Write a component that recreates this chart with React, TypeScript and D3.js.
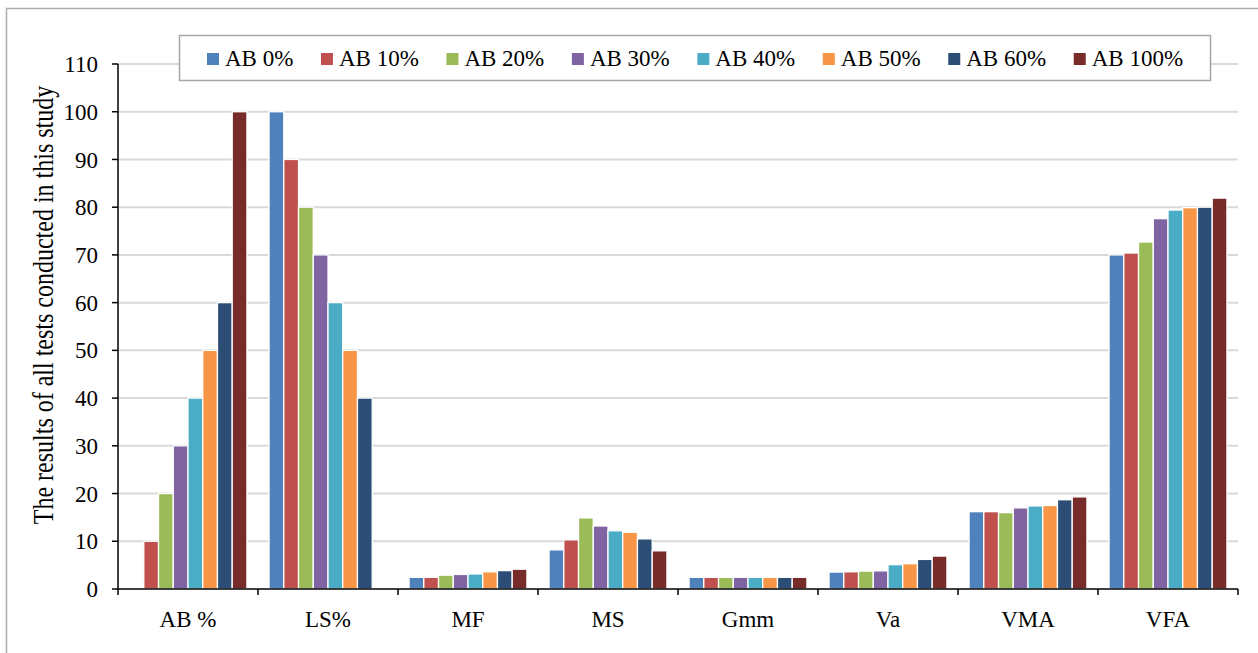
import React from "react";
import * as d3 from "d3";

const categories = ["AB %", "LS%", "MF", "MS", "Gmm", "Va", "VMA", "VFA"];
const seriesNames = ["AB 0%", "AB 10%", "AB 20%", "AB 30%", "AB 40%", "AB 50%", "AB 60%", "AB 100%"];
const seriesColors = ["#4F81BD", "#C0504D", "#9BBB59", "#8064A2", "#4BACC6", "#F79646", "#2C4D75", "#772C2A"];

// values per series, in category order
const ab0 = [0, 100, 2.45, 8.2, 2.45, 3.55, 16.2, 70.0];
const ab10 = [10, 90, 2.45, 10.3, 2.45, 3.6, 16.2, 70.4];
const ab20 = [20, 80, 2.9, 14.9, 2.45, 3.75, 16.0, 72.7];
const ab30 = [30, 70, 3.05, 13.2, 2.45, 3.8, 17.0, 77.6];
const ab40 = [40, 60, 3.15, 12.2, 2.45, 5.1, 17.4, 79.4];
const ab50 = [50, 50, 3.6, 11.9, 2.45, 5.3, 17.5, 79.9];
const ab60 = [60, 40, 3.85, 10.5, 2.45, 6.2, 18.7, 80.0];
const ab100 = [100, 0, 4.15, 8.0, 2.45, 6.9, 19.3, 81.9];
const seriesValues = [ab0, ab10, ab20, ab30, ab40, ab50, ab60, ab100];

const yTicks = d3.range(0, 111, 10);
const yTitle = "The results of all tests conducted in this study";

const FONT = "'Liberation Serif', 'Times New Roman', serif";

function measure(text: string, size: number) {
  const c = document.createElement("canvas").getContext("2d");
  if (!c) return text.length * size * 0.5;
  c.font = `${size}px 'Liberation Serif'`;
  return c.measureText(text).width;
}

export default function App() {
  const W = 1258, H = 653;
  const left = 118, right = 1238, top = 64, bottom = 589;
  const x0 = d3.scaleBand<string>().domain(categories).range([left, right]).padding(0);
  const x1 = d3.scaleBand<string>().domain(seriesNames).range([0, x0.bandwidth()]).paddingInner(0).paddingOuter(0.75);
  const y = d3.scaleLinear().domain([0, 110]).range([bottom, top]);

  const fs = 23;
  // legend layout
  const legX0 = 207, sq = 12;
  let cur = legX0;
  const legItems = seriesNames.map((n, i) => {
    const item = { n, i, x: cur };
    cur += sq + 6 + measure(n, fs) + 27.6;
    return item;
  });

  return (
    <svg width={W} height={H} style={{ position: "absolute", left: 0, top: 0, background: "#fff" }} fontFamily={FONT}>
      <rect x={6.5} y={8.5} width={W + 10} height={H + 10} fill="#fff" stroke="#adadad" strokeWidth={1.5} />
      {/* gridlines */}
      {yTicks.filter(t => t > 0).map(t => (
        <line key={t} x1={left} x2={right} y1={y(t)} y2={y(t)} stroke="#d9d9d9" strokeWidth={2} />
      ))}
      {/* bars */}
      {categories.map((c, ci) => (
        <g key={c} transform={`translate(${x0(c)},0)`}>
          {seriesNames.map((s, si) => {
            const v = seriesValues[si][ci];
            if (v <= 0) return null;
            return (
              <rect key={s} x={x1(s)} y={y(v)} width={x1.bandwidth()} height={bottom - y(v)}
                fill={seriesColors[si]} stroke="#fff" strokeWidth={1.3} />
            );
          })}
        </g>
      ))}
      {/* y axis */}
      <line x1={left} x2={left} y1={top} y2={bottom} stroke="#000" strokeWidth={1.5} />
      {yTicks.map(t => (
        <g key={t}>
          <line x1={left - 6} x2={left} y1={y(t)} y2={y(t)} stroke="#000" strokeWidth={1.5} />
          <text x={left - 20} y={y(t)} dy="0.35em" textAnchor="end" fontSize={fs} fill="#000">{t}</text>
        </g>
      ))}
      {/* x axis */}
      <line x1={left} x2={right} y1={bottom} y2={bottom} stroke="#000" strokeWidth={1.5} />
      {d3.range(categories.length + 1).map(i => {
        const xx = left + i * x0.step();
        return <line key={i} x1={xx} x2={xx} y1={bottom} y2={bottom + 6} stroke="#000" strokeWidth={1.5} />;
      })}
      {categories.map(c => (
        <text key={c} x={(x0(c) as number) + x0.bandwidth() / 2} y={627} textAnchor="middle" fontSize={fs} fill="#000">{c}</text>
      ))}
      {/* y title */}
      <text transform={`translate(52.5,305) rotate(-90) scale(1,1.25)`} textAnchor="middle" fontSize={24} fill="#000">{yTitle}</text>
      {/* legend */}
      <rect x={179.5} y={35.5} width={1031} height={45} fill="#fff" stroke="#a6a6a6" strokeWidth={1.5} />
      {legItems.map(it => (
        <g key={it.n}>
          <rect x={it.x} y={53} width={sq} height={sq} fill={seriesColors[it.i]} />
          <text x={it.x + sq + 6} y={65.5} fontSize={fs} fill="#000">{it.n}</text>
        </g>
      ))}
    </svg>
  );
}
